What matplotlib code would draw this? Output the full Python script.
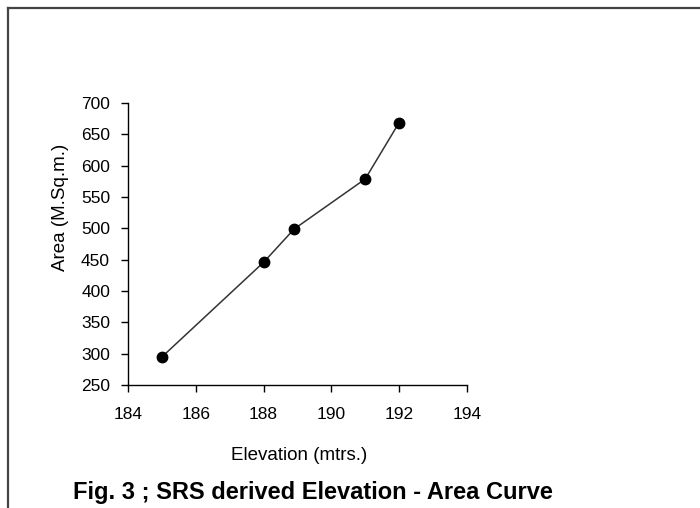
import matplotlib.pyplot as plt
from matplotlib.lines import Line2D

plt.rcParams['font.family'] = ['Liberation Sans', 'DejaVu Sans']

# elevation (m) vs area (M sq m)
elevation = [185, 188, 188.9, 191, 192]
area = [295, 446, 499, 579, 669]

x_ticks = [184, 186, 188, 190, 192, 194]
y_ticks = [250, 300, 350, 400, 450, 500, 550, 600, 650, 700]

fig = plt.figure(figsize=(7, 5.08), dpi=100)
ax = fig.add_axes([0.183, 0.242, 0.484, 0.555])

ax.plot(elevation, area, color='#333333', linewidth=1.1,
        marker='o', markersize=7.5, markerfacecolor='black', markeredgecolor='black')

ax.set_xlim(184, 194)
ax.set_ylim(250, 700)
ax.set_xticks(x_ticks)
ax.set_yticks(y_ticks)
ax.tick_params(direction='out', length=5, width=1, labelsize=12.5, color='black')
ax.tick_params(axis='x', pad=11)
ax.tick_params(axis='y', pad=8)
ax.spines['top'].set_visible(False)
ax.spines['right'].set_visible(False)
for s in ['left', 'bottom']:
    ax.spines[s].set_linewidth(1)
    ax.spines[s].set_color('black')

ax.set_xlabel('Elevation (mtrs.)', fontsize=13.5)
ax.xaxis.set_label_coords(0.504, -0.25)
ax.xaxis.label.set_verticalalignment('center')
ax.set_ylabel('Area (M.Sq.m.)', fontsize=13.5)
ax.yaxis.set_label_coords(-0.2, 0.63)
ax.yaxis.label.set_verticalalignment('center')

fig.text(0.104, 0.031, 'Fig. 3 ; SRS derived Elevation - Area Curve',
         fontsize=17, fontweight='bold', ha='left', va='center')

# frame from the original page: left and top edges
fig.add_artist(Line2D([0.011, 0.011], [0.0, 0.984], transform=fig.transFigure,
                      color='#444444', linewidth=1.6))
fig.add_artist(Line2D([0.011, 1.0], [0.984, 0.984], transform=fig.transFigure,
                      color='#444444', linewidth=1.6))

fig.savefig('out.png', dpi=100)
